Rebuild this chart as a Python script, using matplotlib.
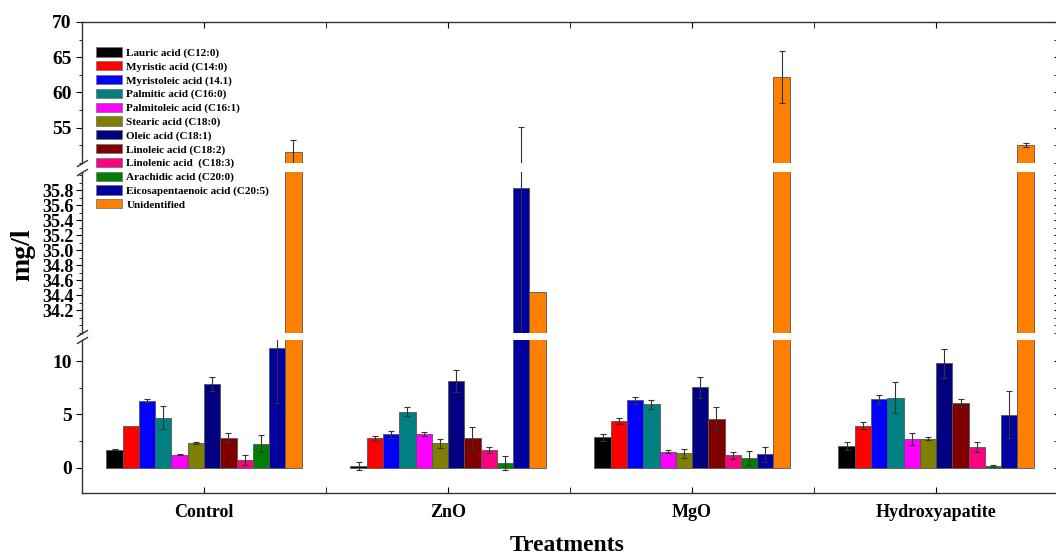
import numpy as np
import matplotlib
matplotlib.use("Agg")
import matplotlib.pyplot as plt
from matplotlib.ticker import MultipleLocator
import matplotlib.patches as mpatches

plt.rcParams['font.family'] = ['Liberation Serif', 'DejaVu Serif']
plt.rcParams['font.weight'] = 'bold'

treatments = ["Control", "ZnO", "MgO", "Hydroxyapatite"]
acids = ["Lauric acid (C12:0)", "Myristic acid (C14:0)", "Myristoleic acid (14.1)",
         "Palmitic acid (C16:0)", "Palmitoleic acid (C16:1)", "Stearic acid (C18:0)",
         "Oleic acid (C18:1)", "Linoleic acid (C18:2)", "Linolenic acid  (C18:3)",
         "Arachidic acid (C20:0)", "Eicosapentaenoic acid (C20:5)", "Unidentified"]
colours = ["#000000", "#ff0000", "#0000ff", "#008080", "#ff00ff", "#808000",
           "#000080", "#800000", "#ff0080", "#008000", "#0000a0", "#ff8000"]

control = [1.67, 3.95, 6.3, 4.7, 1.18, 2.27, 7.88, 2.82, 0.73, 2.24, 11.24, 51.6]
control_err = [0.05, 0.0, 0.15, 1.05, 0.05, 0.1, 0.67, 0.4, 0.48, 0.8, 5.2, 1.7]
zno = [0.15, 2.76, 3.13, 5.27, 3.15, 2.27, 8.15, 2.76, 1.64, 0.42, 35.83, 34.45]
zno_err = [0.4, 0.25, 0.35, 0.45, 0.15, 0.4, 1.03, 1.03, 0.3, 0.7, 19.3, 0.0]
mgo = [2.84, 4.38, 6.32, 5.95, 1.47, 1.35, 7.53, 4.59, 1.14, 0.89, 1.23, 62.2]
mgo_err = [0.3, 0.27, 0.33, 0.4, 0.15, 0.42, 1.03, 1.06, 0.36, 0.64, 0.7, 3.75]
hap = [2.02, 3.95, 6.44, 6.56, 2.71, 2.71, 9.83, 6.05, 1.95, 0.17, 4.98, 52.56]
hap_err = [0.39, 0.33, 0.42, 1.45, 0.58, 0.15, 1.37, 0.39, 0.45, 0.1, 2.25, 0.25]

values = np.array([control, zno, mgo, hap])
errors = np.array([control_err, zno_err, mgo_err, hap_err])

fig = plt.figure(figsize=(10.56, 5.57), dpi=100)
left, right = 82 / 1056, 1.002
H = 557.0
def box(ytop, ybot):
    return [left, 1 - ybot / H, right - left, (ybot - ytop) / H]

ax_top = fig.add_axes(box(22, 163))
ax_mid = fig.add_axes(box(172, 333))
ax_bot = fig.add_axes(box(340, 493))
axes = [ax_top, ax_mid, ax_bot]

ax_top.set_ylim(50, 70)
ax_mid.set_ylim(33.9, 36.04)
ax_bot.set_ylim(-2.4, 12)

x = np.arange(1, len(treatments) + 1)
n = len(acids)
w = 0.8 / n

for ax in axes:
    for i in range(n):
        xi = x + (i - (n - 1) / 2) * w
        ax.bar(xi, values[:, i], width=w, color=colours[i], edgecolor="#555555", linewidth=0.6, zorder=2)
        mask = errors[:, i] > 0
        ax.errorbar(xi[mask], values[mask, i], yerr=errors[mask, i], fmt='none',
                    ecolor="#333333", elinewidth=0.8, capsize=2.5, capthick=0.8, zorder=3)
    ax.set_xlim(0.5, 4.5)
    for s in ax.spines.values():
        s.set_linewidth(1.0)
        s.set_color("#333333")
    ax.tick_params(axis='y', which='both', direction='out', labelsize=14)
    ax.tick_params(axis='y', which='major', length=4)
    ax.tick_params(axis='y', which='minor', length=2.5)
    ax.set_xticks(x)
    ax.xaxis.set_minor_locator(MultipleLocator(0.5))

ax_top.set_yticks([55, 60, 65, 70])
ax_top.yaxis.set_minor_locator(MultipleLocator(2.5))
ax_mid.set_yticks(np.round(np.arange(34.2, 35.81, 0.2), 1))
ax_mid.yaxis.set_minor_locator(MultipleLocator(0.1))
ax_mid.tick_params(axis='y', labelsize=13, pad=2)
ax_bot.set_yticks([0, 5, 10])
ax_bot.yaxis.set_minor_locator(MultipleLocator(2.5))

# right side ticks pointing inward (spine itself sits at the picture edge)
for ax in axes:
    sec = ax.secondary_yaxis('right')
    sec.set_yticks(ax.get_yticks())
    sec.yaxis.set_minor_locator(ax.yaxis.get_minor_locator())
    sec.tick_params(axis='y', which='both', direction='in', labelright=False, length=3)
    sec.spines['right'].set_color("#333333")

ax_top.spines['bottom'].set_visible(False)
ax_mid.spines['top'].set_visible(False)
ax_mid.spines['bottom'].set_visible(False)
ax_bot.spines['top'].set_visible(False)

ax_top.tick_params(axis='x', which='both', top=True, bottom=False, labelbottom=False, direction='in', length=4)
ax_mid.tick_params(axis='x', which='both', top=False, bottom=False, labelbottom=False)
ax_bot.tick_params(axis='x', which='both', top=False, bottom=True, direction='in', length=4, pad=8)
ax_bot.set_xticklabels(treatments, fontsize=13, fontweight='bold')

# break marks on left spine
kw = dict(marker=[(-1, -0.6), (1, 0.6)], markersize=8, linestyle='none',
          color='#333333', mec='#333333', mew=1, clip_on=False)
ax_top.plot([0], [0], transform=ax_top.transAxes, **kw)
ax_mid.plot([0, 0], [0, 1], transform=ax_mid.transAxes, **kw)
ax_bot.plot([0], [1], transform=ax_bot.transAxes, **kw)

fig.text(0.022, 0.542, "mg/l", rotation=90, fontsize=20, fontweight='bold', ha='center', va='center')
fig.text(0.537, 0.02, "Treatments", fontsize=17, fontweight='bold', ha='center', va='center')

handles = [mpatches.Patch(facecolor=c, edgecolor="#777777", linewidth=0.6, label=l)
           for c, l in zip(colours, acids)]
fig.legend(handles=handles, loc='upper left', bbox_to_anchor=(0.086, 0.925), frameon=False,
           prop={'size': 8, 'weight': 'bold'}, labelspacing=0.28, handlelength=2.3,
           handleheight=0.9, handletextpad=0.4, borderpad=0)

fig.savefig("out.png", dpi=100)
